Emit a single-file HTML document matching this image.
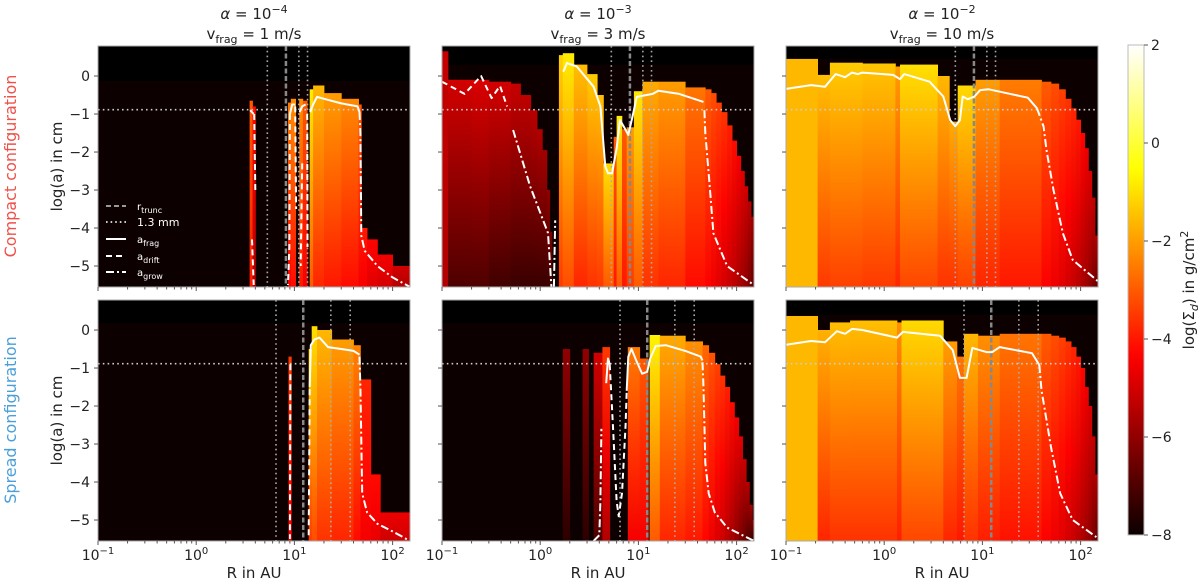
<!DOCTYPE html>
<html><head><meta charset="utf-8"><style>
html,body{margin:0;padding:0;background:#fff;}
svg{display:block;font-family:"DejaVu Sans","Liberation Sans",sans-serif;}
</style></head><body>
<svg id="fig" width="1200" height="585" viewBox="0 0 1200 585" xmlns="http://www.w3.org/2000/svg">
<defs id="defs"></defs>
<g id="root"></g>
</svg>
<script>
// ---------- data ----------
const p1R0=[3.5,3.75,8.6,9.2,11.2,12.2,14.3,15.5,20,30,45,48,55,70,100];
const p1R1=[3.75,4.0,9.2,10.3,12.2,13.5,15.5,20,30,45,48,55,70,100,165];
const p1Top=[-0.65,-0.8,-0.7,-0.6,-0.6,-0.65,-0.35,-0.25,-0.45,-0.6,-0.75,-4.0,-4.3,-4.7,-5.0];
const p1Hi=[-3.0,-4.2,-2.5,-2.2,-2.2,-3.0,-0.8,-1.6,-2.0,-2.3,-3.0,-4.0,-4.3,-4.5,-5.0];
const p1Lo=[-4.0,-5.5,-4.5,-4.2,-4.0,-4.5,-3.0,-3.8,-4.0,-4.2,-4.5,-4.5,-4.8,-5.0,-5.5];

const p2R0=[0.1,0.115,0.2,0.3,0.5,0.63,0.8,0.93,1.05,1.17,1.25,1.55,1.7,2.2,3,3.8,4.4,5.6,6,6.8,7.6,9,11,16,30,48,55,62,70,80,90,100,110,120,130,140];
const p2R1=[0.115,0.2,0.3,0.5,0.63,0.8,0.93,1.05,1.17,1.25,1.32,1.7,2.2,3,3.8,4.4,5.6,6,6.8,7.6,9,11,16,30,48,55,62,70,80,90,100,110,120,130,140,165];
const p2Top=[0.65,-0.1,-0.1,-0.15,-0.2,-0.5,-0.9,-1.4,-1.95,-3.0,-4.1,0.55,0.6,0.3,0.05,-0.5,-2.3,-1.6,-1.05,-1.4,-1.35,-0.4,-0.15,-0.15,-0.3,-0.35,-0.45,-0.7,-0.95,-1.3,-1.7,-2.1,-2.5,-2.9,-3.3,-3.7];
const p2Hi=[-5.2,-5.0,-4.9,-5.0,-5.2,-5.3,-5.4,-5.5,-5.7,-6,-6.3,-1.2,-0.8,-1.5,-1.3,-1.5,-1.0,-3,-0.8,-3.0,-2.0,-0.9,-1.8,-2.0,-2.6,-3.0,-3.2,-3.4,-3.6,-3.9,-4.2,-4.5,-4.8,-5.1,-5.4,-5.7];
const p2Lo=[-5.5,-7.0,-7.0,-7.2,-7.3,-7.3,-7.3,-7.3,-7.3,-7.3,-7.3,-3.5,-3.2,-3.8,-3.6,-3.5,-3.0,-4,-3.0,-4.0,-3.5,-3.0,-3.6,-3.8,-4.2,-4.4,-4.6,-4.8,-5,-5.2,-5.4,-5.6,-5.8,-6,-6.3,-6.6];

const p3R0=[0.1,0.21,0.28,0.6,1.3,1.45,3.5,4.6,5.6,8.5,15,40,50,60,70,80,90,100,110,120,130,140];
const p3R1=[0.21,0.28,0.6,1.3,1.45,3.5,4.6,5.6,8.5,15,40,50,60,70,80,90,100,110,120,130,140,165];
const p3Top=[0.45,0.03,0.35,0.33,0.25,0.3,0.0,-1.2,-0.25,-0.1,-0.1,-0.15,-0.2,-0.35,-0.6,-0.85,-1.15,-1.5,-1.9,-2.5,-3.2,-4.2];
const p3Hi=[-1.6,-1.5,-1.3,-1.4,-2,-1.0,-1.6,-1.8,-1.1,-2.0,-2.5,-3.0,-3.2,-3.4,-3.6,-3.8,-4.0,-4.3,-4.6,-4.9,-5.2,-5.5];
const p3Lo=[-1.6,-3.5,-3.4,-3.5,-3.8,-3.3,-3.6,-3.6,-3.4,-3.8,-4.0,-4.4,-4.6,-4.8,-5.0,-5.2,-5.4,-5.6,-5.8,-6.0,-6.3,-6.6];

const p4R0=[8.7,14,15,17,24,40,47,60,75];
const p4R1=[9.3,15,17,24,40,47,60,75,165];
const p4Top=[-0.7,-0.5,0.1,0.0,-0.25,-0.4,-1.3,-3.8,-4.8];
const p4Hi=[-3.5,-1.0,-1.0,-1.6,-2.0,-2.4,-3.8,-4.2,-4.6];
const p4Lo=[-4.5,-3.5,-3.2,-3.6,-3.8,-4.2,-4.5,-4.7,-5.1];

const p5R0=[1.7,2.7,3.5,4.3,7.8,10.3,13,16.5,30,45,52,60,68,76,85,95,105,115,125,135,145];
const p5R1=[2.0,3.1,4.3,5.1,10.3,12.6,16.5,30,45,52,60,68,76,85,95,105,115,125,135,145,165];
const p5Top=[-0.5,-0.5,-0.6,-0.45,-0.45,-0.75,-0.13,-0.15,-0.3,-0.4,-0.6,-0.9,-1.2,-1.5,-1.9,-2.3,-2.8,-3.4,-4.0,-4.6,-5.0];
const p5Hi=[-6,-6,-5,-3.5,-2.5,-3,-0.7,-1.8,-2.2,-2.8,-3.1,-3.4,-3.6,-3.9,-4.2,-4.5,-4.8,-5.1,-5.4,-5.7,-6];
const p5Lo=[-7.5,-7.5,-7,-5.5,-4.5,-4.5,-3,-3.8,-4.0,-4.3,-4.6,-4.9,-5.1,-5.4,-5.7,-6,-6.3,-6.6,-6.9,-7.2,-7.5];

const p6R0=[0.1,0.21,0.28,0.45,1.35,1.5,4,5.5,6.5,9,15,40,50,60,70,80,90,100,110,120,130,140];
const p6R1=[0.21,0.28,0.45,1.35,1.5,4,5.5,6.5,9,15,40,50,60,70,80,90,100,110,120,130,140,165];
const p6Top=[0.37,0.0,0.2,0.25,0.2,0.25,-0.3,-0.7,-0.1,-0.15,-0.1,-0.1,-0.15,-0.2,-0.3,-0.45,-0.7,-1.0,-1.5,-2.0,-2.8,-3.8];
const p6Hi=[-1.6,-1.7,-1.5,-1.5,-2.2,-1.1,-2,-2.6,-1.6,-2.2,-2.6,-3.0,-3.2,-3.4,-3.6,-3.8,-4.0,-4.3,-4.6,-4.9,-5.2,-5.5];
const p6Lo=[-1.6,-3.8,-3.6,-3.6,-3.9,-3.3,-3.8,-4,-3.6,-3.9,-4.1,-4.4,-4.6,-4.8,-5.0,-5.2,-5.4,-5.6,-5.8,-6.0,-6.3,-6.6];

const stripBottom=[-0.13,0.3,0.45,0.18,0.18,0.4];

const p1Frag=[[3.55,-0.9],[3.85,-1.0],null,[9,-1.0],[9.5,-0.75],[10.2,-0.75],null,[11.3,-0.95],[12,-0.8],[13,-0.75],null,[14.5,-0.95],[15.5,-0.75],[17,-0.55],[20,-0.6],[30,-0.72],[44,-0.8],[46,-0.95]];
const p1Drift=[[3.9,-1.0],[4.0,-3.0],null,[3.7,-4.3],[3.85,-5.5],null,[9,-1],[8.9,-4.5],[8.6,-5.5],null,[12,-2.3],[11.6,-5.0],null,[13.5,-1],[13.6,-4.5],null,[10.2,-0.8],[10.4,-3.5]];
const p1Grow=[[46,-0.95],[47,-1.5],[48,-4.2],[52,-4.6],[70,-5.0],[100,-5.3],[150,-5.55]];

const p2Frag=[[1.72,0.11],[1.87,0.34],[2.36,0.25],[3.5,-0.28],[4.1,-0.8],[4.6,-2.38],[4.9,-2.56],[5.4,-2.56],[6.0,-1.9],[6.5,-1.16],[7.1,-1.33],[7.9,-1.55],[8.7,-1.07],[9.6,-0.55],[14,-0.47],[16,-0.39],[26,-0.47],[46,-0.68]];
const p2Drift=[[0.1,-0.15],[0.17,-0.47],[0.25,0.0],[0.32,-0.58],[0.39,-0.26],[0.46,-0.8]];
const p2Grow=[[0.53,-1.42],[0.79,-2.9],[1.2,-4.13],[1.3,-5.55],null,[1.38,-5.55],[1.42,-3.8],null,[47,-0.9],[48,-1.5],[53,-2.83],[58,-4.14],[80,-5.0],[150,-5.5]];

const p3Frag=[[0.1,-0.34],[0.18,-0.24],[0.25,-0.28],[0.32,0.05],[0.4,-0.03],[0.47,0.09],[0.54,0.05],[0.6,0.09],[1.23,0.03],[1.45,-0.08],[1.6,0.05],[2.9,-0.15],[4,-0.54],[4.7,-1.16],[5.3,-1.32],[5.9,-1.16],[6.3,-0.54],[7.1,-0.61],[8.3,-0.54],[9.5,-0.37],[11.6,-0.35],[29,-0.57],[36,-0.85]];
const p3Drift=[];
const p3Grow=[[36,-0.85],[42,-1.33],[45,-1.95],[53,-3.0],[66,-4.14],[83,-4.84],[150,-5.4]];

const p4Frag=[[14.3,-1.5],[14.7,-0.4],[16,-0.25],[18,-0.2],[22,-0.45],[30,-0.5],[40,-0.55],[46,-0.65]];
const p4Drift=[[9.1,-0.9],[9.0,-5.5],null,[14,-5.4],[14.3,-1.5]];
const p4Grow=[[46,-0.7],[47,-1.5],[49,-4.3],[55,-4.8],[70,-5.1],[100,-5.3],[150,-5.55]];

const p5Frag=[[4.7,-1.4],[4.9,-0.75],[5.1,-0.9],null,[7.6,-1.6],[7.9,-0.7],[8.5,-0.5],[9.5,-0.8],[10.9,-1.15],[12.3,-1.1],[13.2,-0.75],[15,-0.42],[19,-0.4],[30,-0.55],[43,-0.7],[45,-0.8]];
const p5Drift=[[5.1,-0.9],[5.5,-2.5],[6.0,-4.5],[6.3,-4.9],[6.8,-4.3],[7.4,-2.5],[7.6,-1.6]];
const p5Grow=[[3.5,-5.55],[4.0,-5.4],[4.1,-4.5],[4.2,-2.6],null,[45,-0.85],[46,-1.5],[48,-3.5],[52,-4.3],[60,-4.8],[80,-5.2],[150,-5.55]];

const p6Frag=[[0.1,-0.39],[0.18,-0.29],[0.25,-0.32],[0.33,-0.03],[0.4,-0.1],[0.47,0.03],[0.6,0],[1.35,-0.2],[1.55,-0.05],[3.7,-0.15],[5,-0.53],[5.9,-1.26],[6.9,-1.26],[7.9,-0.47],[11,-0.58],[12.6,-0.58],[15,-0.45],[32,-0.61],[38,-0.92]];
const p6Drift=[];
const p6Grow=[[38,-0.92],[40,-1.58],[50,-3.08],[62,-4.3],[83,-5.0],[145,-5.45]];

const topDotted=[5.3,11.1,13.6];
const topDashed=[8.2];
const botDotted=[6.5,23.5,37];
const botDashed=[12.3];
const mmLine=-0.886;

const yTicks=[0,-1,-2,-3,-4,-5];
const yTickLabels=["0","−1","−2","−3","−4","−5"];
const xTicks=[0.1,1,10,100];
const xTickExp=["−1","0","1","2"];
const cbTicks=[2,0,-2,-4,-6,-8];
const cbTickLabels=["2","0","−2","−4","−6","−8"];
const titleAlpha=["−4","−3","−2"];
const titleV=["1","3","10"];

// ---------- helpers ----------
const NS="http://www.w3.org/2000/svg";
const root=document.getElementById('root');
const defs=document.getElementById('defs');
function mk(tag,attrs,parent){const e=document.createElementNS(NS,tag);for(const k in attrs)e.setAttribute(k,attrs[k]);(parent||root).appendChild(e);return e;}
function hot(v){const t=Math.max(0,Math.min(1,(v+8)/10));
 const r=Math.min(1,0.0416+t/0.365*(1-0.0416)),g=Math.max(0,Math.min(1,(t-0.365)/0.381)),b=Math.max(0,Math.min(1,(t-0.746)/0.254));
 return 'rgb('+Math.round(r*255)+','+Math.round(g*255)+','+Math.round(b*255)+')';}
const PW=312,PH=241,XD=98.2,YU=38;
function px0(c){return 98+344*c;}
function py0(r){return r===0?46:300;}
function xs(c,R){return px0(c)+(Math.log10(R)+1)*XD;}
function ys(r,a){return py0(r)+(0.79-a)*YU;}

const panels=[
 {c:0,r:0,R0:p1R0,R1:p1R1,T:p1Top,H:p1Hi,L:p1Lo,F:p1Frag,D:p1Drift,G:p1Grow},
 {c:1,r:0,R0:p2R0,R1:p2R1,T:p2Top,H:p2Hi,L:p2Lo,F:p2Frag,D:p2Drift,G:p2Grow},
 {c:2,r:0,R0:p3R0,R1:p3R1,T:p3Top,H:p3Hi,L:p3Lo,F:p3Frag,D:p3Drift,G:p3Grow},
 {c:0,r:1,R0:p4R0,R1:p4R1,T:p4Top,H:p4Hi,L:p4Lo,F:p4Frag,D:p4Drift,G:p4Grow},
 {c:1,r:1,R0:p5R0,R1:p5R1,T:p5Top,H:p5Hi,L:p5Lo,F:p5Frag,D:p5Drift,G:p5Grow},
 {c:2,r:1,R0:p6R0,R1:p6R1,T:p6Top,H:p6Hi,L:p6Lo,F:p6Frag,D:p6Drift,G:p6Grow}
];

function drawCurve(g,c,r,pts,dash,name){
 let seg=[];const segs=[];
 pts.forEach(p=>{if(p===null){if(seg.length)segs.push(seg);seg=[];}else seg.push(p);});
 if(seg.length)segs.push(seg);
 segs.forEach(s=>{
  const d=s.map((p,i)=>(i?'L':'M')+xs(c,p[0]).toFixed(1)+' '+ys(r,p[1]).toFixed(1)).join(' ');
  const a={d:d,fill:'none',stroke:'#fff','stroke-width':2,'stroke-linejoin':'round'};
  if(dash)a['stroke-dasharray']=dash;
  const e=mk('path',a,g);
  
  
 });
}

panels.forEach((P,pi)=>{
 const x0=px0(P.c),y0=py0(P.r);
 const clip=mk('clipPath',{id:'clip'+pi},defs);
 mk('rect',{x:x0,y:y0,width:PW,height:PH},clip);
 const g=mk('g',{'clip-path':'url(#clip'+pi+')'});
 
 
 mk('rect',{x:x0,y:y0,width:PW,height:PH,fill:'#0d0000'},g);
 mk('rect',{x:x0,y:y0,width:PW,height:ys(P.r,stripBottom[pi])-y0,fill:'#000'},g);
 for(let i=0;i<P.R0.length;i++){
  const gid='gr'+pi+'_'+i;
  const lg=mk('linearGradient',{id:gid,x1:0,y1:0,x2:0,y2:1},defs);
  mk('stop',{offset:0,'stop-color':hot(P.H[i])},lg);
  mk('stop',{offset:0.55,'stop-color':hot(P.H[i]*0.45+P.L[i]*0.55)},lg);
  mk('stop',{offset:1,'stop-color':hot(P.L[i])},lg);
  const xa=xs(P.c,P.R0[i]),xb=xs(P.c,P.R1[i]),yt=ys(P.r,P.T[i]);
  const cell=mk('rect',{x:xa.toFixed(1),y:yt.toFixed(1),width:(xb-xa+0.4).toFixed(1),height:(y0+PH-yt).toFixed(1),fill:'url(#'+gid+')'},g);
  
  
 }
 const dots=P.r===0?topDotted:botDotted, dashes=P.r===0?topDashed:botDashed;
 dots.forEach(R=>{const e=mk('line',{x1:xs(P.c,R),x2:xs(P.c,R),y1:y0,y2:y0+PH,stroke:'#aaa','stroke-width':1.6,'stroke-dasharray':'1.6,3.2'},g);
  
  });
 dashes.forEach(R=>{const e=mk('line',{x1:xs(P.c,R),x2:xs(P.c,R),y1:y0,y2:y0+PH,stroke:'#888','stroke-width':2.5,'stroke-dasharray':'5,2.5'},g);
  
  });
 const hl=mk('line',{x1:x0,x2:x0+PW,y1:ys(P.r,mmLine),y2:ys(P.r,mmLine),stroke:'#ccc','stroke-width':1.6,'stroke-dasharray':'1.6,3.2'},g);
 
 
 drawCurve(g,P.c,P.r,P.F,null,'a-frag-curve');
 drawCurve(g,P.c,P.r,P.D,'6,4','a-drift-curve');
 drawCurve(g,P.c,P.r,P.G,'8,3,2,3','a-grow-curve');
 const fr=mk('rect',{x:x0,y:y0,width:PW,height:PH,fill:'none',stroke:'#aaa','stroke-width':1});
 
 
 yTicks.forEach((a,k)=>{const y=ys(P.r,a);mk('line',{x1:x0-4,x2:x0,y1:y,y2:y,stroke:'#555','stroke-width':1});
  if(P.c===0){const t=mk('text',{x:x0-8,y:y+5,'text-anchor':'end','font-size':14,fill:'#222'});t.textContent=yTickLabels[k];
   
   }});
 for(let e=-1;e<=2;e++){for(let m=1;m<=9;m++){const R=m*Math.pow(10,e);const lr=Math.log10(R)+1;if(lr*XD>PW)continue;
  const x=xs(P.c,R);mk('line',{x1:x,x2:x,y1:y0+PH,y2:y0+PH+(m===1?4:2.5),stroke:'#555','stroke-width':1});}}
 if(P.r===1){xTicks.forEach((R,k)=>{const x=xs(P.c,R);
  const t=mk('text',{x:x,y:y0+PH+19,'text-anchor':'middle','font-size':14,fill:'#222'});
  
  
  t.appendChild(document.createTextNode('10'));
  const s=mk('tspan',{dy:-6,'font-size':10},t);s.textContent=xTickExp[k];});
  const xl=mk('text',{x:x0+PW/2,y:578,'text-anchor':'middle','font-size':15,fill:'#222'});xl.textContent='R in AU';
  
  }
 if(P.c===0){const yl=mk('text',{x:0,y:0,transform:'translate(62,'+(y0+PH/2)+') rotate(-90)','text-anchor':'middle','font-size':15,fill:'#222'});yl.textContent='log(a) in cm';
  
  }
 if(P.r===0){const cx=x0+PW/2;
  const t1=mk('text',{x:cx,y:19,'text-anchor':'middle','font-size':15,fill:'#222'});
  
  
  const ta=mk('tspan',{'font-style':'italic'},t1);ta.textContent='α';
  t1.appendChild(document.createTextNode(' = 10'));
  const sp=mk('tspan',{dy:-6,'font-size':11},t1);sp.textContent=titleAlpha[P.c];
  const t2=mk('text',{x:cx,y:39,'text-anchor':'middle','font-size':15,fill:'#222'});
  
  
  t2.appendChild(document.createTextNode('v'));
  const sb=mk('tspan',{dy:4,'font-size':11},t2);sb.textContent='frag';
  const rest=mk('tspan',{dy:-4},t2);rest.textContent=' = '+titleV[P.c]+' m/s';}
});

const rl1=mk('text',{x:0,y:0,transform:'translate(16,166) rotate(-90)','text-anchor':'middle','font-size':16,fill:'#f0504a'});rl1.textContent='Compact configuration';


const rl2=mk('text',{x:0,y:0,transform:'translate(16,420) rotate(-90)','text-anchor':'middle','font-size':16,fill:'#4a9fd8'});rl2.textContent='Spread configuration';



const lgG=mk('g',{});


const legY=[206,222,239,256,272];
const legStyle=[['#999','5,3'],['#ccc','1.6,3'],['#fff',null],['#fff','6,4'],['#fff','8,3,2,3']];
const legMain=['r','1.3 mm','a','a','a'];
const legSub=['trunc','','frag','drift','grow'];
legY.forEach((y,k)=>{
 const a={x1:106,x2:126,y1:y,y2:y,stroke:legStyle[k][0],'stroke-width':2};if(legStyle[k][1])a['stroke-dasharray']=legStyle[k][1];
 const l=mk('line',a,lgG);
 
 
 const t=mk('text',{x:137,y:y+4,'font-size':k===1?11:10,fill:'#fff'},lgG);
 
 
 t.appendChild(document.createTextNode(legMain[k]));
 if(legSub[k]){const s=mk('tspan',{dy:3,'font-size':8},t);s.textContent=legSub[k];}
});

const cbx=1128,cby=45,cbw=16,cbh=490;
const cg=mk('linearGradient',{id:'cbgrad',x1:0,y1:1,x2:0,y2:0},defs);
for(let i=0;i<=40;i++){mk('stop',{offset:i/40,'stop-color':hot(-8+10*i/40)},cg);}
const cb=mk('rect',{x:cbx,y:cby,width:cbw,height:cbh,fill:'url(#cbgrad)',stroke:'#bbb','stroke-width':1});


cbTicks.forEach((v,k)=>{const y=cby+cbh*(2-v)/10;
 mk('line',{x1:cbx+cbw,x2:cbx+cbw+4,y1:y,y2:y,stroke:'#555'});
 const t=mk('text',{x:cbx+cbw+7,y:y+5,'font-size':14,fill:'#222'});t.textContent=cbTickLabels[k];
 
 });
const cbl=mk('text',{x:0,y:0,transform:'translate(1194,290) rotate(-90)','text-anchor':'middle','font-size':15,fill:'#222'});


cbl.appendChild(document.createTextNode('log(Σ'));
const cs=mk('tspan',{dy:4,'font-size':11,'font-style':'italic'},cbl);cs.textContent='d';
const cr=mk('tspan',{dy:-4},cbl);cr.textContent=') in g/cm';
const c2=mk('tspan',{dy:-6,'font-size':11},cbl);c2.textContent='2';
</script>
</body></html>
